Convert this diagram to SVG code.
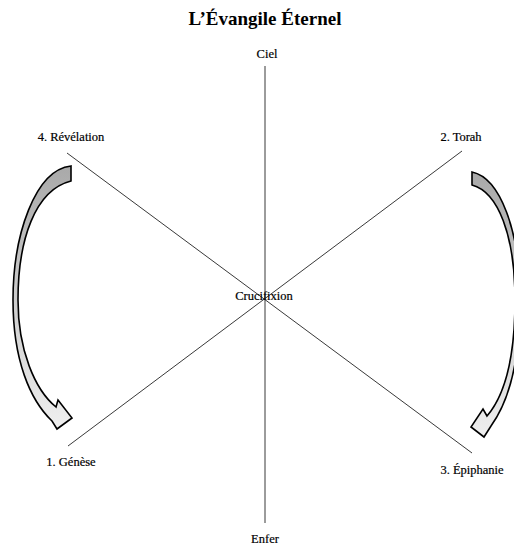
<svg xmlns="http://www.w3.org/2000/svg" width="514" height="547" viewBox="0 0 514 547">
<style>
  text { font-family: "Liberation Serif", "Times New Roman", serif; fill: #000; }
  .title { font-size: 19px; font-weight: bold; }
  .lbl { font-size: 12.5px; stroke: #000; stroke-width: 0.2; }
  .axis { stroke: #222; stroke-width: 0.9; fill: none; }
  .arrow { stroke: #000; stroke-width: 1.6; stroke-linejoin: miter; }
</style>
<defs>
  <linearGradient id="g" x1="0" y1="0" x2="0" y2="1">
    <stop offset="0" stop-color="#a9a9a9"/>
    <stop offset="1" stop-color="#efefef"/>
  </linearGradient>
</defs>
<rect width="514" height="547" fill="#fff"/>
<text class="title" x="265" y="25" text-anchor="middle">L’Évangile Éternel</text>
<g id="connectors">
  <line class="axis" x1="265" y1="66" x2="265" y2="523"/>
  <line class="axis" x1="67" y1="153" x2="472" y2="453"/>
  <line class="axis" x1="68" y1="446" x2="462" y2="151"/>
</g>
<g id="arrow-left">
  <path class="arrow" fill="url(#g)" d="M71,166 C35,170 13,235 13,300 C13,360 30,400 52,421 L57,429 L72,418 L58,400 L56,407 C35,390 18,350 18,300 C18,240 35,190 71,181 Z"/>
</g>
<g id="arrow-right">
  <path class="arrow" fill="url(#g)" d="M472,172 C500,178 520,230 520,300 C520,360 510,400 491,426 L484,437 L471,427 L483,409 L487,416 C505,395 515,360 515,300 C515,235 498,192 472,185 Z"/>
</g>
<g id="ciel"><text class="lbl" x="267" y="58" text-anchor="middle">Ciel</text></g>
<g id="revelation"><text class="lbl" x="71" y="141" text-anchor="middle">4. Révélation</text></g>
<g id="torah"><text class="lbl" x="461" y="141" text-anchor="middle">2. Torah</text></g>
<g id="crucifixion"><text class="lbl" x="264" y="300" text-anchor="middle">Crucifixion</text></g>
<g id="genese"><text class="lbl" x="71" y="466" text-anchor="middle">1. Génèse</text></g>
<g id="epiphanie"><text class="lbl" x="472" y="474" text-anchor="middle">3. Épiphanie</text></g>
<g id="enfer"><text class="lbl" x="265" y="543" text-anchor="middle">Enfer</text></g>
</svg>
